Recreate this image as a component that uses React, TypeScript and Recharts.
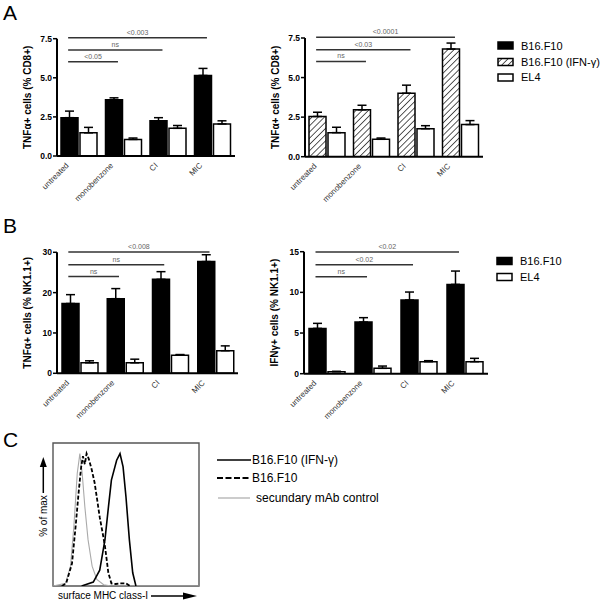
import { BarChart, Bar, XAxis, YAxis, ErrorBar, ReferenceLine, ReferenceArea, LineChart, Line } from 'recharts'

const FONT = '"Liberation Sans", Arial, sans-serif'

const categories = ['untreated', 'monobenzone', 'CI', 'MIC']

// A left: TNFa+ (% CD8+), B16.F10 vs EL4
const cd8B16 = [2.45, 3.6, 2.25, 5.15]
const cd8B16Err = [0.42, 0.12, 0.2, 0.45]
const cd8El4 = [1.48, 1.06, 1.77, 2.05]
const cd8El4Err = [0.35, 0.09, 0.18, 0.2]

// A right: TNFa+ (% CD8+), B16.F10 (IFN-g) vs EL4
const cd8Ifn = [2.54, 2.96, 4.01, 6.8]
const cd8IfnErr = [0.27, 0.29, 0.51, 0.38]
const cd8El4b = [1.52, 1.1, 1.77, 2.03]
const cd8El4bErr = [0.34, 0.08, 0.19, 0.25]

// B left: TNFa+ (% NK1.1+)
const nkTnfB16 = [17.3, 18.5, 23.3, 27.7]
const nkTnfB16Err = [2.2, 2.5, 1.9, 1.7]
const nkTnfEl4 = [2.6, 2.6, 4.5, 5.6]
const nkTnfEl4Err = [0.5, 0.9, 0.15, 1.2]

// B right: IFNg+ (% NK1.1+)
const nkIfnB16 = [5.57, 6.35, 9.06, 10.98]
const nkIfnB16Err = [0.62, 0.54, 0.98, 1.64]
const nkIfnEl4 = [0.25, 0.66, 1.48, 1.48]
const nkIfnEl4Err = [0.04, 0.28, 0.12, 0.41]

const ticksCd8 = [0, 2.5, 5, 7.5]
const ticksNkTnf = [0, 10, 20, 30]
const ticksNkIfn = [0, 5, 10, 15]

type Sig = { label: string; from: number; to: number; y: number }

const sigCd8: Sig[] = [
  { label: '<0.05', from: 0, to: 1, y: 6.03 },
  { label: 'ns', from: 0, to: 2, y: 6.78 },
  { label: '<0.003', from: 0, to: 3, y: 7.56 },
]
const sigCd8Ifn: Sig[] = [
  { label: 'ns', from: 0, to: 1, y: 6.02 },
  { label: '<0.03', from: 0, to: 2, y: 6.76 },
  { label: '<0.0001', from: 0, to: 3, y: 7.54 },
]
const sigNkTnf: Sig[] = [
  { label: 'ns', from: 0, to: 1, y: 23.97 },
  { label: 'ns', from: 0, to: 2, y: 26.94 },
  { label: '<0.008', from: 0, to: 3, y: 30.08 },
]
const sigNkIfn: Sig[] = [
  { label: 'ns', from: 0, to: 1, y: 11.93 },
  { label: '<0.02', from: 0, to: 2, y: 13.4 },
  { label: '<0.02', from: 0, to: 3, y: 14.96 },
]

// C: histograms (% of max vs MHC class-I channel)
const ctrlX = [0, 4, 8.6, 12, 14.3, 16.6, 18.4, 20, 21.8, 24, 26.8, 30, 34.7, 40, 100]
const ctrlY = [0, 1, 2, 15, 45, 85, 100, 85, 60, 35, 15, 5, 1, 0, 0]
const b16X = [6, 9, 13, 15.5, 17.5, 19.3, 20.5, 21.8, 23, 24.5, 26.5, 28.5, 30, 32, 34, 35.6, 37.9, 40, 43, 46, 50, 52.7]
const b16Y = [0, 2, 17, 45, 70, 90, 98, 92, 100, 96, 88, 78, 67, 52, 40, 30, 10, 2, 1.5, 2, 2, 0]
const ifnX = [19.6, 27.6, 32, 35.6, 38, 40, 43.6, 45.9, 48, 50, 52.3, 54.6, 56.8]
const ifnY = [0, 3, 12, 35, 60, 80, 95, 100, 90, 67, 35, 10, 0]

const CatTick = (props: any) => {
  const { x, y, payload } = props
  const tx = x - 10
  const ty = y + 10
  return (
    <text x={tx} y={ty} transform={`rotate(-45 ${tx} ${ty})`} textAnchor="end"
      fontSize={8} fill="#333" fontFamily={FONT}>
      {payload.value}
    </text>
  )
}

interface PanelProps {
  left: number; top: number; width: number; height: number
  axisX: number; plotRight: number; plotTop: number; plotBottom: number
  first: number[]; firstErr: number[]; second: number[]; secondErr: number[]
  hatched?: boolean
  yMax: number; ticks: number[]; decimals: number
  yLabel: string
  sigs: Sig[]
  id: string
}

function BarPanel(p: PanelProps) {
  const margin = { top: p.plotTop - p.top, right: p.left + p.width - p.plotRight, bottom: 0, left: 0 }
  const xAxisH = p.top + p.height - p.plotBottom
  const yAxisW = p.axisX - p.left
  const rows = categories.map((name, i) => ({
    name,
    slot: i + 0.5,
    a: p.first[i], aErr: [0, p.firstErr[i]],
    b: p.second[i], bErr: [0, p.secondErr[i]],
  }))
  const hatchId = `hatch-${p.id}`
  return (
    <div style={{ position: 'absolute', left: p.left, top: p.top }}>
      <BarChart width={p.width} height={p.height} data={rows} margin={margin}
        barGap={2} barSize={17} style={{ overflow: 'visible' }}>
        <defs>
          <pattern id={hatchId} patternUnits="userSpaceOnUse" width={4.4} height={4.4} patternTransform="rotate(45)">
            <rect width={4.4} height={4.4} fill="#fff" />
            <line x1={0} y1={0} x2={0} y2={4.4} stroke="#000" strokeWidth={1.3} />
          </pattern>
        </defs>
        <XAxis xAxisId="cat" dataKey="name" height={xAxisH} interval={0}
          tickLine={false} tickSize={0} tickMargin={0}
          axisLine={{ stroke: '#000', strokeWidth: 2 }} tick={<CatTick />} />
        <XAxis xAxisId="sig" dataKey="slot" type="number" domain={[0, 4]} hide allowDataOverflow />
        <YAxis width={yAxisW} domain={[0, p.yMax]} ticks={p.ticks} allowDataOverflow interval={0}
          tickFormatter={(v: number) => v.toFixed(p.decimals)}
          axisLine={{ stroke: '#000', strokeWidth: 2 }}
          tickLine={{ stroke: '#000', strokeWidth: 1.5 }} tickSize={4} tickMargin={1}
          tick={{ fontSize: 8.5, fontWeight: 'bold', fill: '#000', fontFamily: FONT }}
          label={{
            position: 'center',
            content: (lp: any) => {
              const vb = lp.viewBox
              const cx = vb.x + vb.width - 29
              const cy = vb.y + vb.height / 2
              return (
                <text x={cx} y={cy} transform={`rotate(-90 ${cx} ${cy})`} textAnchor="middle"
                  dominantBaseline="central" fontSize={10} fontWeight="bold" fill="#000" fontFamily={FONT}>
                  {p.yLabel}
                </text>
              )
            },
          }} />
        <Bar xAxisId="cat" dataKey="a" fill={p.hatched ? `url(#${hatchId})` : '#000'}
          stroke="#000" strokeWidth={1.5} isAnimationActive={false}>
          <ErrorBar dataKey="aErr" width={4.5} stroke="#000" strokeWidth={1.5} direction="y" />
        </Bar>
        <Bar xAxisId="cat" dataKey="b" fill="#fff" stroke="#000" strokeWidth={1.5} isAnimationActive={false}>
          <ErrorBar dataKey="bErr" width={4.5} stroke="#000" strokeWidth={1.5} direction="y" />
        </Bar>
        {p.sigs.map((s, i) => (
          <ReferenceLine key={i} xAxisId="sig" ifOverflow="visible"
            segment={[{ x: s.from + 0.25, y: s.y }, { x: s.to + 0.37, y: s.y }]}
            stroke="#333" strokeWidth={1.5}
            label={{ value: s.label, position: 'top', offset: 3, fontSize: 7, fill: '#666', fontFamily: FONT }} />
        ))}
      </BarChart>
    </div>
  )
}

const toPts = (xs: number[], ys: number[]) => xs.map((x, i) => ({ x, y: ys[i] }))

function Histogram() {
  return (
    <div style={{ position: 'absolute', left: 0, top: 430 }}>
      <LineChart width={210} height={174} margin={{ top: 13, right: 11, bottom: 18, left: 53 }}
        style={{ overflow: 'visible' }}>
        <XAxis type="number" dataKey="x" domain={[0, 100]} allowDataOverflow hide />
        <YAxis domain={[0, 108]} allowDataOverflow hide />
        <ReferenceArea x1={0} x2={100} y1={0} y2={108} ifOverflow="visible"
          fill="#fff" fillOpacity={0} stroke="#555" strokeWidth={1.4} strokeOpacity={1} />
        <Line data={toPts(ctrlX, ctrlY)} dataKey="y" type="linear"
          stroke="#aaa" strokeWidth={1.1} dot={false} isAnimationActive={false} />
        <Line data={toPts(b16X, b16Y)} dataKey="y" type="linear"
          stroke="#000" strokeWidth={1.8} strokeDasharray="4 2" dot={false} isAnimationActive={false} />
        <Line data={toPts(ifnX, ifnY)} dataKey="y" type="linear"
          stroke="#000" strokeWidth={1.6} dot={false} isAnimationActive={false} />
      </LineChart>
    </div>
  )
}

function Overlay() {
  const t = { fontFamily: FONT, fill: '#000' }
  return (
    <svg width={601} height={604} style={{ position: 'absolute', left: 0, top: 0, pointerEvents: 'none' }}>
      <defs>
        <pattern id="hatch-legend" patternUnits="userSpaceOnUse" width={4.4} height={4.4} patternTransform="rotate(45)">
          <rect width={4.4} height={4.4} fill="#fff" />
          <line x1={0} y1={0} x2={0} y2={4.4} stroke="#000" strokeWidth={1.3} />
        </pattern>
      </defs>
      <text x={3} y={20} fontSize={21} {...t}>A</text>
      <text x={3} y={233} fontSize={21} {...t}>B</text>
      <text x={3} y={447} fontSize={21} {...t}>C</text>

      {/* legend A */}
      <rect x={498} y={42} width={15} height={7} fill="#000" stroke="#000" strokeWidth={1.5} />
      <text x={521} y={49.5} fontSize={11} {...t}>B16.F10</text>
      <rect x={498} y={58.5} width={15} height={7} fill="url(#hatch-legend)" stroke="#000" strokeWidth={1.5} />
      <text x={521} y={66} fontSize={11} {...t}>B16.F10 (IFN-γ)</text>
      <rect x={498} y={74} width={15} height={7} fill="#fff" stroke="#000" strokeWidth={1.5} />
      <text x={521} y={81} fontSize={11} {...t}>EL4</text>

      {/* legend B */}
      <rect x={497} y={257.5} width={15} height={7} fill="#000" stroke="#000" strokeWidth={1.5} />
      <text x={520} y={265} fontSize={11} {...t}>B16.F10</text>
      <rect x={497} y={273.5} width={15} height={7} fill="#fff" stroke="#000" strokeWidth={1.5} />
      <text x={520} y={281} fontSize={11} {...t}>EL4</text>

      {/* legend C */}
      <line x1={217} y1={460} x2={251} y2={460} stroke="#000" strokeWidth={1.6} />
      <text x={252} y={464} fontSize={12} {...t}>B16.F10 (IFN-γ)</text>
      <line x1={217} y1={478} x2={251} y2={478} stroke="#000" strokeWidth={2} strokeDasharray="6 2.5" />
      <text x={252} y={482} fontSize={12} {...t}>B16.F10</text>
      <line x1={218} y1={498} x2={250} y2={498} stroke="#aaa" strokeWidth={1.2} />
      <text x={256} y={502} fontSize={12} {...t}>secundary mAb control</text>

      {/* C axis titles */}
      <polygon points="43.3,457 39.8,467 46.8,467" fill="#000" />
      <line x1={43.3} y1={466} x2={43.3} y2={493} stroke="#000" strokeWidth={1.5} />
      <text x={47} y={516} fontSize={10} textAnchor="middle" transform="rotate(-90 47 516)" {...t}>% of max</text>
      <text x={58} y={599} fontSize={10} {...t}>surface MHC class-I</text>
      <line x1={151} y1={596} x2={184} y2={596} stroke="#000" strokeWidth={1.5} />
      <polygon points="197,596 183,592.5 183,599.5" fill="#000" />
    </svg>
  )
}

export default function App() {
  return (
    <div style={{ position: 'absolute', left: 0, top: 0, width: 601, height: 604, background: '#fff', fontFamily: FONT }}>
      <BarPanel id="a1" left={0} top={0} width={245} height={212} axisX={57} plotRight={235} plotTop={38.7} plotBottom={156}
        first={cd8B16} firstErr={cd8B16Err} second={cd8El4} secondErr={cd8El4Err}
        yMax={7.5} ticks={ticksCd8} decimals={1} yLabel="TNFα+ cells (% CD8+)" sigs={sigCd8} />
      <BarPanel id="a2" left={248} top={0} width={245} height={212} axisX={305} plotRight={483} plotTop={38} plotBottom={156.7}
        first={cd8Ifn} firstErr={cd8IfnErr} second={cd8El4b} secondErr={cd8El4bErr} hatched
        yMax={7.5} ticks={ticksCd8} decimals={1} yLabel="TNFα+ cells (% CD8+)" sigs={sigCd8Ifn} />
      <BarPanel id="b1" left={0} top={212} width={245} height={218} axisX={57} plotRight={238} plotTop={252.3} plotBottom={373.3}
        first={nkTnfB16} firstErr={nkTnfB16Err} second={nkTnfEl4} secondErr={nkTnfEl4Err}
        yMax={30} ticks={ticksNkTnf} decimals={0} yLabel="TNFα+ cells (% NK1.1+)" sigs={sigNkTnf} />
      <BarPanel id="b2" left={248} top={212} width={245} height={218} axisX={304} plotRight={488} plotTop={251.7} plotBottom={373.7}
        first={nkIfnB16} firstErr={nkIfnB16Err} second={nkIfnEl4} secondErr={nkIfnEl4Err}
        yMax={15} ticks={ticksNkIfn} decimals={0} yLabel="IFNγ+ cells (% NK1.1+)" sigs={sigNkIfn} />
      <Histogram />
      <Overlay />
    </div>
  )
}
